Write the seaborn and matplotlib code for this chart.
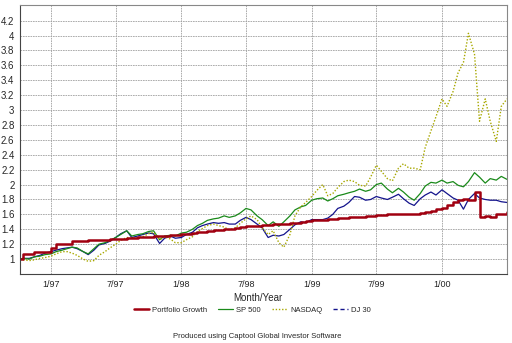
import numpy as np
import pandas as pd
import matplotlib
matplotlib.use("Agg")
import matplotlib.pyplot as plt
import matplotlib.lines as mlines
import seaborn as sns

# ---- data (semi-monthly samples) ----
dates = [pd.Timestamp("1996-10-06")] + list(pd.date_range("1996-10-15", "2000-07-01", freq="SMS"))

portfolio = [1.00, 1.07, 1.07, 1.10, 1.10, 1.10, 1.15, 1.20, 1.20, 1.20,
             1.24, 1.24, 1.245, 1.25, 1.25, 1.255, 1.26, 1.265, 1.27, 1.275,
             1.28, 1.285, 1.29, 1.295, 1.30, 1.305, 1.31, 1.315, 1.32, 1.325,
             1.335, 1.34, 1.35, 1.36, 1.37, 1.38, 1.385, 1.39, 1.40, 1.41,
             1.42, 1.43, 1.44, 1.445, 1.45, 1.455, 1.46, 1.465, 1.47, 1.475,
             1.48, 1.49, 1.50, 1.51, 1.52, 1.525, 1.53, 1.535, 1.54, 1.545,
             1.55, 1.56, 1.565, 1.57, 1.58, 1.585, 1.59, 1.595, 1.60, 1.60,
             1.60, 1.605, 1.60, 1.61, 1.62, 1.63, 1.65, 1.67, 1.69, 1.72,
             1.76, 1.79, 1.81, 1.79, 1.90, 1.56, 1.58, 1.57, 1.60, 1.61,
             1.63]

sp500 = [1.00, 1.01, 1.00, 1.03, 1.04, 1.06, 1.07, 1.10, 1.12, 1.14,
         1.16, 1.15, 1.10, 1.07, 1.14, 1.20, 1.22, 1.25, 1.29, 1.33,
         1.38, 1.31, 1.33, 1.34, 1.37, 1.38, 1.26, 1.31, 1.32, 1.31,
         1.35, 1.36, 1.40, 1.45, 1.48, 1.52, 1.54, 1.55, 1.58, 1.56,
         1.58, 1.62, 1.68, 1.66, 1.58, 1.53, 1.45, 1.50, 1.44, 1.50,
         1.58, 1.66, 1.70, 1.72, 1.79, 1.81, 1.82, 1.78, 1.81, 1.85,
         1.87, 1.89, 1.91, 1.94, 1.91, 1.93, 2.00, 2.02, 1.94, 1.89,
         1.95, 1.90, 1.83, 1.79, 1.88, 1.98, 2.03, 2.02, 2.06, 2.02,
         2.04, 1.99, 1.97, 2.04, 2.16, 2.10, 2.02, 2.08, 2.06, 2.11,
         2.07]

nasdaq = [1.00, 0.99, 0.98, 0.99, 1.01, 1.02, 1.04, 1.07, 1.10, 1.10,
          1.08, 1.05, 1.00, 0.97, 0.98, 1.05, 1.10, 1.15, 1.20, 1.25,
          1.29, 1.28, 1.29, 1.30, 1.34, 1.36, 1.26, 1.30, 1.27, 1.22,
          1.22, 1.26, 1.30, 1.37, 1.41, 1.45, 1.47, 1.45, 1.43, 1.39,
          1.42, 1.48, 1.54, 1.58, 1.53, 1.42, 1.33, 1.38, 1.22, 1.16,
          1.33, 1.58, 1.70, 1.76, 1.84, 1.92, 2.00, 1.85, 1.88, 1.96,
          2.04, 2.06, 2.04, 1.99, 1.98, 2.10, 2.26, 2.18, 2.08, 2.05,
          2.22, 2.28, 2.22, 2.22, 2.20, 2.50, 2.72, 2.91, 3.15, 3.05,
          3.25, 3.50, 3.64, 4.03, 3.75, 2.85, 3.15, 2.85, 2.58, 3.05,
          3.15]

dj30 = [1.00, 1.01, 1.01, 1.03, 1.05, 1.08, 1.10, 1.12, 1.14, 1.15,
        1.16, 1.14, 1.10, 1.06, 1.12, 1.19, 1.21, 1.24, 1.29, 1.34,
        1.38, 1.29, 1.31, 1.33, 1.35, 1.34, 1.21, 1.28, 1.31, 1.28,
        1.29, 1.33, 1.36, 1.42, 1.45, 1.47, 1.49, 1.48, 1.49, 1.47,
        1.47, 1.52, 1.56, 1.53, 1.47, 1.42, 1.29, 1.32, 1.31, 1.33,
        1.40, 1.46, 1.50, 1.49, 1.53, 1.53, 1.53, 1.55, 1.60, 1.68,
        1.71, 1.76, 1.84, 1.83, 1.79, 1.80, 1.84, 1.82, 1.80, 1.83,
        1.87, 1.81, 1.75, 1.72, 1.81, 1.86, 1.90, 1.86, 1.93, 1.88,
        1.82, 1.79, 1.67, 1.80, 1.88, 1.82, 1.80, 1.79, 1.79, 1.77,
        1.76]

series_names = ["Portfolio Growth", "SP 500", "NASDAQ", "DJ 30"]
x_tick_dates = ["1997-01-01", "1997-07-01", "1998-01-01", "1998-07-01",
                "1999-01-01", "1999-07-01", "2000-01-01"]
x_tick_labels = ["1/97", "7/97", "1/98", "7/98", "1/99", "7/99", "1/00"]
y_ticks = [1, 1.2, 1.4, 1.6, 1.8, 2, 2.2, 2.4, 2.6, 2.8, 3, 3.2, 3.4, 3.6, 3.8, 4, 4.2]

# ---- styling ----
sns.set_style("white")
plt.rcParams["font.family"] = ["Liberation Sans", "DejaVu Sans"]

df = pd.DataFrame({"date": dates, "Portfolio Growth": portfolio, "SP 500": sp500,
                   "NASDAQ": nasdaq, "DJ 30": dj30})

fig = plt.figure(figsize=(5.12, 3.43), dpi=100)
ax = fig.add_axes([20 / 512, 1 - 274 / 343, 487 / 512, 269 / 343])

styles = {
    "Portfolio Growth": dict(color="#a00010", linewidth=1.8, drawstyle="steps-post"),
    "SP 500": dict(color="#1a8a1a", linewidth=0.9),
    "NASDAQ": dict(color="#a8a800", linewidth=1.0, linestyle=(0, (1, 1.3))),
    "DJ 30": dict(color="#14148c", linewidth=0.9, linestyle="-"),
}
for name in ["DJ 30", "SP 500", "NASDAQ", "Portfolio Growth"]:
    sns.lineplot(data=df, x="date", y=name, ax=ax, label=name, **styles[name])

ax.set_xlim(pd.Timestamp("1996-10-06"), pd.Timestamp("2000-07-01"))
ax.set_ylim(0.80, 4.41)
ax.set_xticks(pd.to_datetime(x_tick_dates))
ax.set_xticklabels(x_tick_labels, fontsize=6.5)
ax.set_yticks(y_ticks)
ax.set_yticklabels([f"{v:g}" for v in y_ticks], fontsize=7)
ax.set_xlabel("")
ax.set_ylabel("")
ax.tick_params(axis="both", direction="out", length=2.5, width=0.6, color="#555555", pad=1.5)
ax.grid(True, color="#a0a0a0", linestyle=(0, (2, 1)), linewidth=0.6)
for side in ["left", "bottom"]:
    ax.spines[side].set_color("#444444")
    ax.spines[side].set_linewidth(0.8)
for side in ["top", "right"]:
    ax.spines[side].set_color("#888888")
    ax.spines[side].set_linewidth(0.8)

ax.get_legend().remove()
leg_handles = []
for n in series_names:
    st = dict(styles[n])
    st.pop("drawstyle", None)
    if n == "DJ 30":
        st["linestyle"] = (0, (3, 2))
        st["linewidth"] = 1.0
    leg_handles.append(mlines.Line2D([], [], **st))
fig.legend(leg_handles, series_names, loc="center", bbox_to_anchor=(252.5 / 512, 1 - 310 / 343),
           ncol=4, frameon=False, fontsize=5.5, handlelength=2.0, handletextpad=0.4,
           columnspacing=1.4)

fig.text(0.503, 1 - 298 / 343, "Month/Year", ha="center", va="center", fontsize=7)
fig.text(0.503, 1 - 337 / 343, "Produced using Captool Global Investor Software",
         ha="center", va="center", fontsize=5.5)

fig.savefig("out.png", dpi=100)
